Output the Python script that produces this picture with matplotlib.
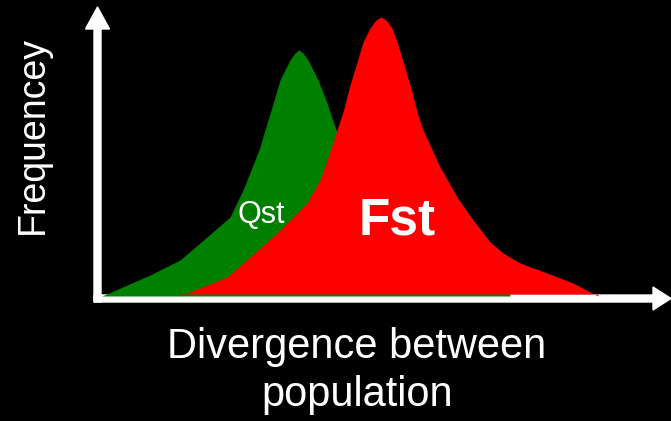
import matplotlib
matplotlib.use("Agg")
import matplotlib.pyplot as plt
from matplotlib.patches import FancyArrow

plt.rcParams['font.family'] = ['Liberation Sans', 'DejaVu Sans']

# Qst distribution (divergence, frequency)
qst_x = [4, 52, 82, 109, 132, 145, 157, 162, 167, 174, 182, 192, 197, 201,
         205, 210, 220, 229, 237, 242, 252, 262, 292, 332, 372, 412]
qst_y = [0, 21, 36, 59, 79, 106, 136, 149, 166, 189, 216, 236, 243, 246,
         243, 236, 216, 193, 169, 156, 121, 96, 56, 26, 10, 2]

# Fst distribution
fst_x = [82, 129, 152, 179, 209, 222, 229, 237, 245, 252, 259, 265, 272, 278,
         283, 288, 294, 300, 307, 314, 319, 325, 342, 359, 375, 392, 405,
         422, 449, 475, 500]
fst_y = [0, 19, 39, 63, 93, 116, 136, 160, 184, 211, 234, 254, 268, 276,
         279, 276, 268, 251, 228, 204, 184, 166, 129, 99, 76, 54, 43,
         33, 23, 13, 0]

x_label = ["Divergence between", "population"]
y_label = "Frequencey"
qst_label = "Qst"
fst_label = "Fst"

fig = plt.figure(figsize=(6.71, 4.21), dpi=100, facecolor='black')
ax = fig.add_axes([0, 0, 1, 1])
ax.set_facecolor('black')
ax.set_xlim(-98, 573)
ax.set_ylim(-125, 296)
ax.axis('off')

# axes arrows
ax.add_patch(FancyArrow(-0.5, -6, 0, 295, width=7, head_width=24,
                        head_length=22, length_includes_head=True,
                        color='white', zorder=1))
ax.add_patch(FancyArrow(-4, -2.5, 577, 0, width=7, head_width=23,
                        head_length=18, length_includes_head=True,
                        color='white', zorder=1))

ax.fill_between(qst_x, 0, qst_y, color='#008000', linewidth=0, zorder=2)
ax.fill_between(fst_x, 2, fst_y, color='#ff0000', linewidth=0, zorder=3)

ax.text(163, 81, qst_label, color='white', fontsize=22, ha='center',
        va='center', zorder=4)
ax.text(299, 75, fst_label, color='white', fontsize=37, fontweight='bold',
        ha='center', va='center', zorder=4)

ax.text(-65, 161, y_label, color='white', fontsize=27, rotation=90,
        ha='center', va='center')
ax.text(259, -51, x_label[0], color='white', fontsize=30, ha='center',
        va='center')
ax.text(259, -99, x_label[1], color='white', fontsize=30, ha='center',
        va='center')

fig.savefig('out.png', dpi=100, facecolor='black')
